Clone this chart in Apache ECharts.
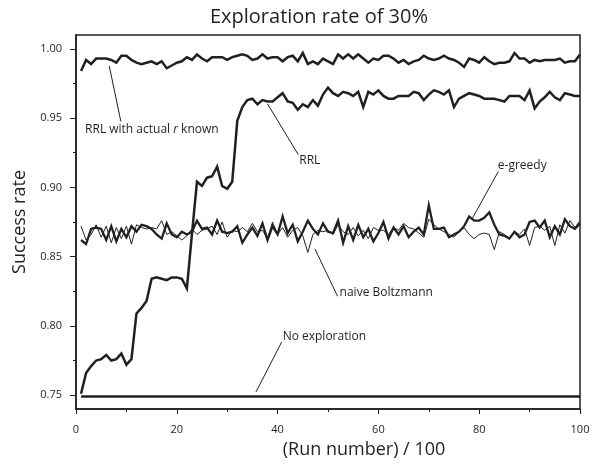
<!DOCTYPE html>
<html>
<head>
<meta charset="utf-8">
<script src="https://cdn.jsdelivr.net/npm/echarts@6/dist/echarts.min.js"></script>
<style>
  html, body { margin: 0; padding: 0; background: #fff; }
  #chart { width: 597px; height: 465px; }
</style>
</head>
<body>
<div id="chart"></div>
<script>
// run number / 100
const runs = [1,2,3,4,5,6,7,8,9,10,11,12,13,14,15,16,17,18,19,20,21,22,23,24,25,26,27,28,29,30,
  31,32,33,34,35,36,37,38,39,40,41,42,43,44,45,46,47,48,49,50,51,52,53,54,55,56,57,58,59,60,
  61,62,63,64,65,66,67,68,69,70,71,72,73,74,75,76,77,78,79,80,81,82,83,84,85,86,87,88,89,90,
  91,92,93,94,95,96,97,98,99,100];

const rrlKnown = [0.984,0.992,0.989,0.993,0.993,0.993,0.992,0.990,0.995,0.995,0.992,0.990,0.989,0.990,0.991,
  0.989,0.991,0.986,0.988,0.990,0.991,0.994,0.992,0.996,0.993,0.991,0.994,0.994,0.994,0.992,
  0.994,0.995,0.996,0.995,0.992,0.993,0.996,0.993,0.994,0.994,0.991,0.994,0.995,0.991,0.997,
  0.989,0.991,0.989,0.993,0.991,0.989,0.996,0.993,0.996,0.993,0.996,0.993,0.990,0.993,0.992,
  0.995,0.995,0.993,0.990,0.992,0.989,0.991,0.992,0.995,0.993,0.992,0.993,0.995,0.993,0.992,
  0.990,0.987,0.993,0.992,0.990,0.994,0.991,0.989,0.990,0.990,0.991,0.997,0.993,0.993,0.990,
  0.992,0.991,0.992,0.992,0.992,0.993,0.990,0.991,0.991,0.996];

const rrl = [0.751,0.766,0.771,0.775,0.776,0.779,0.775,0.776,0.780,0.772,0.776,0.809,0.813,0.818,0.834,
  0.835,0.834,0.833,0.835,0.835,0.834,0.827,0.866,0.904,0.901,0.907,0.908,0.915,0.901,0.899,
  0.904,0.948,0.958,0.963,0.964,0.960,0.963,0.962,0.962,0.965,0.968,0.962,0.961,0.956,0.960,
  0.958,0.963,0.959,0.967,0.972,0.968,0.966,0.969,0.968,0.966,0.969,0.958,0.969,0.967,0.970,
  0.966,0.964,0.964,0.966,0.966,0.966,0.969,0.968,0.963,0.967,0.970,0.969,0.967,0.970,0.958,
  0.964,0.966,0.968,0.967,0.966,0.964,0.964,0.964,0.963,0.962,0.966,0.966,0.966,0.963,0.970,
  0.957,0.962,0.965,0.969,0.965,0.963,0.968,0.967,0.966,0.966];

const eGreedy = [0.862,0.859,0.870,0.871,0.870,0.862,0.872,0.861,0.870,0.864,0.872,0.868,0.873,0.872,0.870,
  0.866,0.863,0.874,0.866,0.864,0.868,0.866,0.868,0.876,0.870,0.871,0.866,0.876,0.868,0.867,
  0.868,0.872,0.860,0.866,0.871,0.865,0.874,0.862,0.872,0.866,0.879,0.867,0.873,0.861,0.868,
  0.876,0.870,0.866,0.874,0.868,0.867,0.876,0.860,0.872,0.862,0.873,0.864,0.870,0.861,0.867,
  0.875,0.863,0.871,0.866,0.872,0.864,0.868,0.871,0.866,0.887,0.870,0.870,0.871,0.864,0.866,
  0.868,0.872,0.879,0.876,0.876,0.878,0.882,0.873,0.866,0.865,0.863,0.868,0.864,0.866,0.875,
  0.876,0.871,0.876,0.864,0.872,0.866,0.877,0.872,0.870,0.874];

const naiveBoltzmann = [0.872,0.862,0.866,0.873,0.864,0.872,0.860,0.871,0.863,0.872,0.859,0.873,0.871,0.870,0.871,
  0.870,0.876,0.866,0.868,0.865,0.862,0.865,0.870,0.866,0.869,0.870,0.872,0.866,0.875,0.864,
  0.869,0.868,0.871,0.868,0.874,0.868,0.869,0.863,0.875,0.866,0.871,0.864,0.869,0.871,0.865,
  0.853,0.866,0.869,0.868,0.869,0.866,0.873,0.868,0.866,0.871,0.865,0.869,0.863,0.871,0.869,
  0.869,0.866,0.871,0.869,0.874,0.871,0.870,0.867,0.864,0.877,0.873,0.870,0.868,0.866,0.864,
  0.868,0.871,0.866,0.863,0.866,0.867,0.866,0.855,0.868,0.866,0.863,0.868,0.866,0.870,0.858,
  0.871,0.872,0.869,0.872,0.858,0.873,0.867,0.876,0.871,0.876];

const noExploration = [0.749,0.749,0.749,0.749,0.749,0.749,0.749,0.749,0.749,0.749,0.749,0.749,0.749,0.749,0.749,
  0.749,0.749,0.749,0.749,0.749,0.749,0.749,0.749,0.749,0.749,0.749,0.749,0.749,0.749,0.749,
  0.749,0.749,0.749,0.749,0.749,0.749,0.749,0.749,0.749,0.749,0.749,0.749,0.749,0.749,0.749,
  0.749,0.749,0.749,0.749,0.749,0.749,0.749,0.749,0.749,0.749,0.749,0.749,0.749,0.749,0.749,
  0.749,0.749,0.749,0.749,0.749,0.749,0.749,0.749,0.749,0.749,0.749,0.749,0.749,0.749,0.749,
  0.749,0.749,0.749,0.749,0.749,0.749,0.749,0.749,0.749,0.749,0.749,0.749,0.749,0.749,0.749,
  0.749,0.749,0.749,0.749,0.749,0.749,0.749,0.749,0.749,0.749];

const yTickLabels = [0.75, 0.80, 0.85, 0.90, 0.95, 1.00];
const yMinorTicks = [0.775, 0.825, 0.875, 0.925, 0.975];

// annotation text (left-middle anchor) and leader line, in data units
const notes = [
  { text: 'RRL with actual {i|r} known', at: [1.8, 0.9416], from: [8.9, 0.9476], to: [6.6, 0.9877] },
  { text: 'RRL', at: [44.3, 0.9195], from: [44.1, 0.9236], to: [38.0, 0.9603] },
  { text: 'e-greedy', at: [83.7, 0.9159], from: [83.8, 0.9115], to: [78.5, 0.8767] },
  { text: 'naive Boltzmann', at: [52.3, 0.8239], from: [51.9, 0.8214], to: [47.4, 0.8556] },
  { text: 'No exploration', at: [41.0, 0.7921], from: [40.8, 0.7883], to: [35.7, 0.7522] }
];

const ink = '#231f20';
const font = 'Open Sans';

function pairs(values) {
    return values.map(function (v, i) { return [runs[i], v]; });
}

let chartDom = document.getElementById('chart');
let chart = echarts.init(chartDom);

function line(name, values, width) {
    return {
        name: name,
        type: 'line',
        data: pairs(values),
        showSymbol: false,
        symbol: 'none',
        animation: false,
        lineStyle: { color: ink, width: width, join: 'miter' },
        emphasis: { disabled: true }
    };
}

let option = {
    animation: false,
    title: {
        text: 'Exploration rate of 30%',
        left: 314,
        textAlign: 'center',
        top: 2,
        textStyle: { fontFamily: font, fontSize: 20, fontWeight: 'normal', color: ink }
    },
    grid: {
        left: 76, right: 17, top: 35, bottom: 56,
        show: true,
        borderColor: ink,
        borderWidth: 1.5
    },
    xAxis: {
        type: 'value',
        min: 0, max: 100, interval: 20,
        name: '(Run number) / 100',
        nameLocation: 'middle',
        nameGap: 32,
        // label sits right of the plot centre in the original
        nameTextStyle: { fontFamily: font, fontSize: 18, color: ink, padding: [0, 0, 0, 72] },
        axisLine: { show: true, lineStyle: { color: ink, width: 1.5 } },
        axisTick: { show: true, inside: false, length: 5, lineStyle: { color: ink } },
        minorTick: { show: true, splitNumber: 2, length: 3, lineStyle: { color: ink } },
        axisLabel: { fontFamily: font, fontSize: 11, color: ink, margin: 15 },
        splitLine: { show: false }
    },
    yAxis: [{
        type: 'value',
        min: 0.74, max: 1.01,
        name: 'Success rate',
        nameLocation: 'middle',
        nameGap: 37,
        nameTextStyle: { fontFamily: font, fontSize: 18, color: ink, padding: [0, 0, 0, 0] },
        axisLine: { show: true, lineStyle: { color: ink, width: 1.5 } },
        axisTick: { show: true, length: 6, customValues: yTickLabels, lineStyle: { color: ink } },
        axisLabel: {
            fontFamily: font, fontSize: 11, color: ink, margin: 14,
            customValues: yTickLabels,
            formatter: function (v) { return v.toFixed(2); }
        },
        splitLine: { show: false }
    }, {
        type: 'value',
        min: 0.74, max: 1.01,
        position: 'left',
        axisLine: { show: false },
        axisTick: { show: true, length: 3, customValues: yMinorTicks, lineStyle: { color: ink } },
        axisLabel: { show: false },
        splitLine: { show: false }
    }],
    series: [
        line('RRL with actual r known', rrlKnown, 2.5),
        line('RRL', rrl, 2.5),
        line('e-greedy', eGreedy, 2.3),
        line('naive Boltzmann', naiveBoltzmann, 1),
        line('No exploration', noExploration, 2.5)
    ]
};

chart.setOption(option);

// leader lines and labels placed through the chart's own scales
let graphics = [];
notes.forEach(function (n) {
    let p = chart.convertToPixel({ gridIndex: 0 }, n.at);
    let a = chart.convertToPixel({ gridIndex: 0 }, n.from);
    let b = chart.convertToPixel({ gridIndex: 0 }, n.to);
    graphics.push({
        type: 'line',
        shape: { x1: a[0], y1: a[1], x2: b[0], y2: b[1] },
        style: { stroke: ink, lineWidth: 1 },
        z: 10
    });
    graphics.push({
        type: 'text',
        x: p[0], y: p[1],
        style: {
            text: n.text,
            fontFamily: font, fontSize: 12, fill: ink,
            verticalAlign: 'middle', align: 'left',
            rich: { i: { fontStyle: 'italic', fontFamily: font, fontSize: 12, fill: ink } }
        },
        z: 10
    });
});
chart.setOption({ graphic: graphics });

window.addEventListener('resize', function () {
    chart.resize();
});
</script>
</body>
</html>
